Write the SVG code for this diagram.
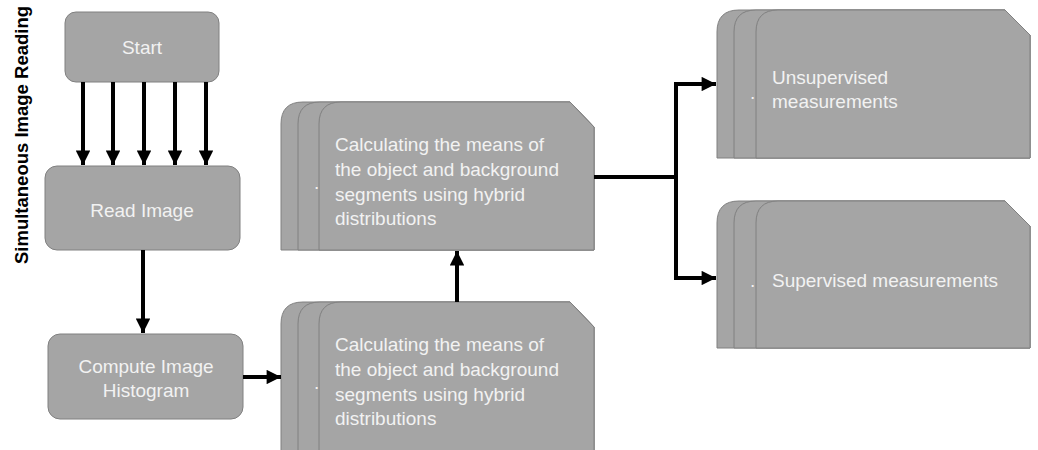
<svg xmlns="http://www.w3.org/2000/svg" width="1038" height="450" viewBox="0 0 1038 450">
<style>
.box{fill:#a5a5a5;stroke:#808080;stroke-width:1}
.t{font-family:"Liberation Sans",Arial,sans-serif;font-size:19px;fill:#f2f2f2}
.c{text-anchor:middle}
.ln{stroke:#000;stroke-width:4;fill:none}
.title{font-family:"Liberation Sans",Arial,sans-serif;font-size:18.5px;font-weight:bold;fill:#000}
</style>
<defs>
<marker id="ah" viewBox="0 0 10 10" refX="10" refY="5" markerWidth="3.8" markerHeight="3.6" markerUnits="strokeWidth" orient="auto">
<path d="M0,0 L10,5 L0,10 Z" fill="#000"/>
</marker>
</defs>
<text class="title" transform="translate(28,135) rotate(-90)" text-anchor="middle">Simultaneous Image Reading</text>

<g id="start">
<rect class="box" x="65" y="12" width="154" height="70" rx="11"/>
<text class="t c" x="142" y="54">Start</text>
</g>
<g id="read-image">
<rect class="box" x="45" y="166" width="195" height="84" rx="12"/>
<text class="t c" x="142" y="217">Read Image</text>
</g>
<g id="compute-histogram">
<rect class="box" x="48" y="334" width="195" height="85" rx="12"/>
<text class="t c" x="146" y="373">Compute Image</text>
<text class="t c" x="146" y="397">Histogram</text>
</g>

<g id="means-top">
<path class="box" d="M281,250 L281,124 Q281,102 303,102 L570,102 L594,127 L594,250 Z"/>
<path class="box" d="M298,250 L298,124 Q298,102 320,102 L570,102 L594,127 L594,250 Z"/>
<path class="box" d="M319,250 L319,124 Q319,102 341,102 L570,102 L594,127 L594,250 Z"/>
<text class="t" x="314" y="189">.</text>
<text class="t" x="335" y="151">Calculating the means of</text>
<text class="t" x="335" y="176">the object and background</text>
<text class="t" x="335" y="201">segments using hybrid</text>
<text class="t" x="335" y="225">distributions</text>
</g>

<g id="means-bottom">
<path class="box" d="M281,460 L281,324 Q281,302 303,302 L570,302 L594,327 L594,460 Z"/>
<path class="box" d="M298,460 L298,324 Q298,302 320,302 L570,302 L594,327 L594,460 Z"/>
<path class="box" d="M319,460 L319,324 Q319,302 341,302 L570,302 L594,327 L594,460 Z"/>
<text class="t" x="314" y="389">.</text>
<text class="t" x="335" y="351">Calculating the means of</text>
<text class="t" x="335" y="376">the object and background</text>
<text class="t" x="335" y="401">segments using hybrid</text>
<text class="t" x="335" y="425">distributions</text>
</g>

<g id="unsupervised">
<path class="box" d="M717,158 L717,32 Q717,10 739,10 L1005,10 L1030,35 L1030,158 Z"/>
<path class="box" d="M734,158 L734,32 Q734,10 756,10 L1005,10 L1030,35 L1030,158 Z"/>
<path class="box" d="M756,158 L756,32 Q756,10 778,10 L1005,10 L1030,35 L1030,158 Z"/>
<text class="t" x="750" y="99">.</text>
<text class="t" x="772" y="84">Unsupervised</text>
<text class="t" x="772" y="108">measurements</text>
</g>

<g id="supervised">
<path class="box" d="M717,348 L717,223 Q717,201 739,201 L1005,201 L1030,226 L1030,348 Z"/>
<path class="box" d="M734,348 L734,223 Q734,201 756,201 L1005,201 L1030,226 L1030,348 Z"/>
<path class="box" d="M756,348 L756,223 Q756,201 778,201 L1005,201 L1030,226 L1030,348 Z"/>
<text class="t" x="750" y="287">.</text>
<text class="t" x="772" y="287">Supervised measurements</text>
</g>

<g id="connectors">
<line class="ln" x1="83" y1="82" x2="83" y2="165" marker-end="url(#ah)"/>
<line class="ln" x1="113" y1="82" x2="113" y2="165" marker-end="url(#ah)"/>
<line class="ln" x1="144" y1="82" x2="144" y2="165" marker-end="url(#ah)"/>
<line class="ln" x1="175" y1="82" x2="175" y2="165" marker-end="url(#ah)"/>
<line class="ln" x1="206" y1="82" x2="206" y2="165" marker-end="url(#ah)"/>
<line class="ln" x1="143" y1="250" x2="143" y2="333" marker-end="url(#ah)"/>
<line class="ln" x1="243" y1="377" x2="281" y2="377" marker-end="url(#ah)"/>
<line class="ln" x1="457" y1="302" x2="457" y2="251" marker-end="url(#ah)"/>
<line class="ln" x1="594" y1="177" x2="676" y2="177"/>
<polyline class="ln" points="700,84 676,84 676,278 700,278"/>
<line class="ln" x1="676" y1="84" x2="716" y2="84" marker-end="url(#ah)"/>
<line class="ln" x1="676" y1="278" x2="716" y2="278" marker-end="url(#ah)"/>
</g>
</svg>
